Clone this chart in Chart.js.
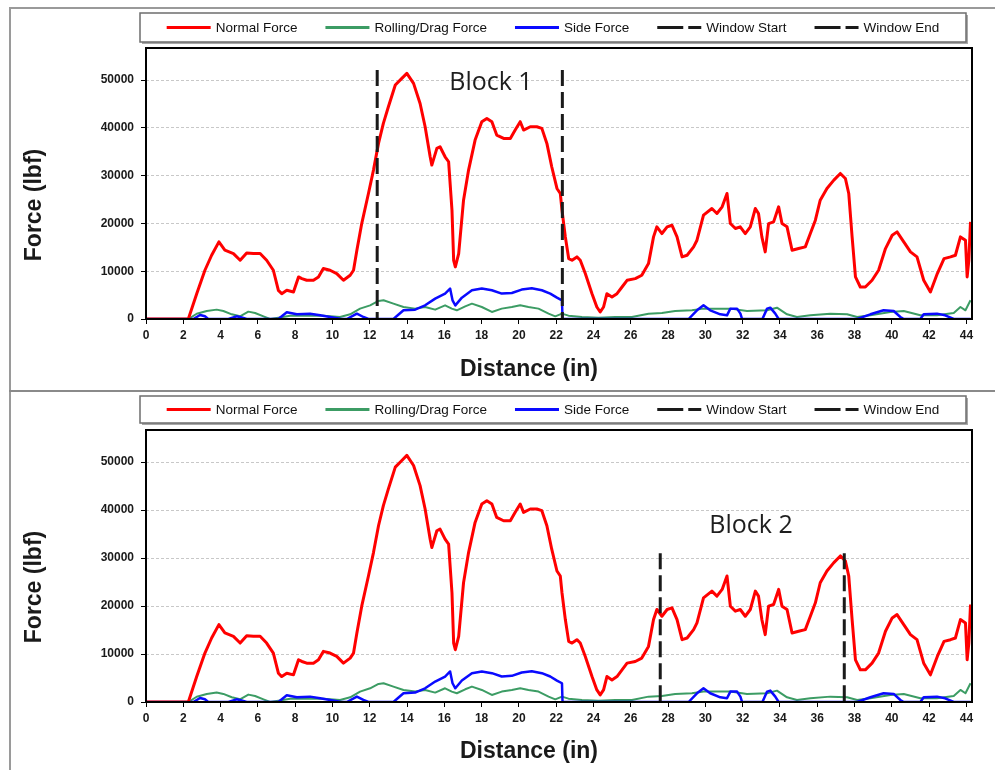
<!DOCTYPE html>
<html>
<head>
<meta charset="utf-8">
<title>Force vs Distance</title>
<script src="https://cdn.jsdelivr.net/npm/chart.js@4.4.1/dist/chart.umd.min.js"></script>
<style>
html, body { margin: 0; padding: 0; background: #fff; }
body { position: relative; width: 995px; height: 770px; overflow: hidden; }
.rule { position: absolute; background: #9a9a9a; }
#ruleLeft { left: 9px; top: 7px; width: 2px; height: 763px; }
#ruleTop { left: 9px; top: 7px; width: 986px; height: 2px; }
#ruleMid { left: 9px; top: 390px; width: 986px; height: 2px; background: #8a8a8a; }
canvas { position: absolute; left: 0; }
#chartTop { top: 0; }
#chartBottom { top: 392px; }
</style>
</head>
<body>
<div class="rule" id="ruleLeft"></div>
<div class="rule" id="ruleTop"></div>
<div class="rule" id="ruleMid"></div>
<canvas id="chartTop" width="995" height="390"></canvas>
<canvas id="chartBottom" width="995" height="378"></canvas>
<script>
// ========================================
// Data (distance in inches, force in lbf)
// ========================================

const normalDist = [0, 2.27, 2.72, 3.16, 3.52, 3.91, 4.23, 4.69, 5.05, 5.40,
  5.76, 6.12, 6.47, 6.83, 7.10, 7.28, 7.55, 7.91, 8.18, 8.36,
  8.62, 8.98, 9.25, 9.51, 9.87, 10.23, 10.59, 10.95, 11.13, 11.31,
  11.57, 11.93, 12.20, 12.47, 12.73, 13.00, 13.37, 13.72, 13.99, 14.35,
  14.70, 14.97, 15.24, 15.33, 15.60, 15.77, 16.04, 16.23, 16.41, 16.50,
  16.59, 16.77, 17.03, 17.30, 17.65, 18.01, 18.28, 18.55, 18.81, 19.18,
  19.54, 19.80, 20.07, 20.25, 20.61, 20.96, 21.23, 21.50, 21.76, 22.04,
  22.22, 22.31, 22.49, 22.67, 22.85, 23.11, 23.29, 23.56, 23.92, 24.18,
  24.36, 24.54, 24.72, 24.99, 25.26, 25.53, 25.80, 26.24, 26.59, 26.95,
  27.22, 27.40, 27.67, 27.95, 28.21, 28.48, 28.75, 29.02, 29.37, 29.55,
  29.90, 30.35, 30.62, 30.90, 31.16, 31.34, 31.61, 31.87, 32.14, 32.41,
  32.68, 32.85, 33.03, 33.21, 33.39, 33.66, 33.93, 34.11, 34.38, 34.65,
  35.00, 35.36, 35.63, 35.90, 36.16, 36.52, 36.89, 37.24, 37.51, 37.69,
  37.87, 38.05, 38.31, 38.58, 38.94, 39.29, 39.66, 40.02, 40.28, 40.64,
  41.00, 41.35, 41.71, 42.07, 42.44, 42.80, 43.15, 43.41, 43.68, 43.95,
  44.04, 44.13, 44.22];

const normalForce = [0, 0, 5300, 10200, 13340, 16130, 14390, 13690, 12290, 13830,
  13690, 13690, 12290, 10200, 6000, 5300, 6000, 5660, 8800, 8450,
  8100, 8100, 8800, 10550, 10200, 9500, 8100, 9150, 10200, 14390,
  19970, 26260, 31150, 36740, 40930, 44420, 48960, 50350, 51400, 49300,
  45100, 40230, 33940, 32200, 35690, 36040, 33940, 32900, 22770, 12290,
  10900, 13690, 24860, 31150, 37430, 41280, 41970, 41280, 38480, 37780,
  37780, 39530, 41280, 39530, 40230, 40230, 39880, 36740, 31850, 27310,
  26260, 22770, 17180, 12640, 12290, 12990, 12290, 9500, 5300, 2510,
  1470, 2510, 5300, 4600, 5300, 6700, 8100, 8450, 9150, 11590,
  17180, 19280, 17880, 19280, 19620, 17180, 12990, 13340, 15090, 16480,
  21720, 23120, 22070, 23470, 26260, 19970, 18930, 19280, 17880, 19280,
  23120, 22070, 17180, 14040, 19970, 20320, 23470, 19970, 19280, 14390,
  14740, 15090, 17880, 20670, 24860, 27310, 29050, 30450, 29400, 26260,
  17180, 8800, 6700, 6700, 8100, 10200, 14740, 17530, 18230, 16130,
  14040, 12990, 8100, 5660, 9500, 12640, 12990, 13340, 17180, 16480,
  8800, 12290, 20320];

const dragDist = [0, 2.27, 2.72, 3.26, 3.79, 4.15, 4.60, 5.04, 5.49, 5.85,
  6.30, 6.65, 7.10, 7.73, 8.62, 9.52, 10.41, 10.95, 11.48, 12.02,
  12.47, 12.74, 13.27, 13.81, 14.43, 14.97, 15.51, 16.04, 16.40, 16.67,
  17.12, 17.48, 18.01, 18.55, 19.08, 19.62, 20.07, 20.51, 21.05, 21.59,
  21.95, 22.31, 22.66, 23.38, 24.27, 25.17, 26.06, 26.95, 27.67, 28.38,
  29.28, 29.90, 30.62, 31.34, 32.23, 33.31, 33.84, 34.38, 34.91, 35.63,
  36.70, 37.60, 38.14, 38.85, 39.92, 40.64, 41.53, 42.42, 43.32, 43.68,
  43.95, 44.22];

const dragForce = [0, 0, 1100, 1680, 1960, 1680, 980, 560, 1540, 1260,
  560, 0, 280, 700, 700, 700, 420, 980, 2170, 2860,
  3770, 3910, 3210, 2510, 2170, 2510, 1960, 2860, 2170, 1820,
  2650, 3210, 2510, 1470, 2170, 2510, 2860, 2510, 2170, 1120,
  560, 1120, 700, 420, 280, 420, 420, 1120, 1260, 1680,
  1820, 2170, 2170, 2170, 1680, 1820, 2370, 980, 420, 770,
  1120, 980, 420, 770, 1470, 1680, 770, 770, 1260, 2510,
  1820, 3910];

const sideDist = [0, 2.54, 2.90, 3.16, 3.34, 4.42, 4.86, 5.13, 5.40, 7.10,
  7.55, 8.09, 8.80, 9.34, 9.87, 10.41, 10.77, 11.31, 11.66, 11.93,
  13.27, 13.81, 14.43, 14.97, 15.51, 16.04, 16.31, 16.44, 16.59, 16.94,
  17.48, 18.01, 18.55, 19.08, 19.62, 20.15, 20.69, 21.23, 21.68, 22.04,
  22.31, 22.34, 29.10, 29.55, 29.90, 30.26, 30.80, 31.16, 31.34, 31.70,
  31.88, 31.97, 33.06, 33.31, 33.48, 33.75, 33.93, 38.14, 38.85, 39.56,
  40.10, 40.46, 40.64, 41.53, 41.71, 42.42, 42.86, 43.32, 44.22];

const sideForce = [0, 0, 840, 560, 0, 0, 560, 300, 0, 0,
  1400, 980, 1120, 770, 420, 70, 0, 1120, 420, 0,
  0, 1820, 1960, 2860, 4260, 5310, 6360, 3910, 2860, 4470,
  6010, 6360, 6010, 5310, 5450, 6150, 6430, 6010, 5310, 4470,
  3910, 0, 0, 1820, 2860, 1820, 980, 770, 2170, 2170,
  1120, 0, 0, 2170, 2370, 1120, 0, 0, 980, 1820,
  1680, 420, 0, 0, 980, 1120, 770, 0, 0];

// window start / end positions and marker heights
const block1Window = [12.40, 22.33];
const block1Top = 52100;
const block2Window = [27.58, 37.45];
const block2Top = 31000;

const seriesLabels = ["Normal Force", "Rolling/Drag Force", "Side Force", "Window Start", "Window End"];
const xTickValues = [0, 2, 4, 6, 8, 10, 12, 14, 16, 18, 20, 22, 24, 26, 28, 30, 32, 34, 36, 38, 40, 42, 44];
const yTickValues = [0, 10000, 20000, 30000, 40000, 50000];
const xRange = [0, 44.3];
const yRange = [0, 56700];

// ========================================
// Helpers
// ========================================

const FONT = '"Liberation Sans", Arial, sans-serif';

function pairs(xs, ys) {
  return xs.map((x, i) => ({ x: x, y: ys[i] }));
}

function buildDatasets(win, winTop) {
  const dash = { borderColor: "#1a1a1a", borderWidth: 3, borderDash: [16, 6] };
  return [
    { label: seriesLabels[0], data: pairs(normalDist, normalForce), borderColor: "#ff0000", borderWidth: 3, order: 3 },
    { label: seriesLabels[1], data: pairs(dragDist, dragForce), borderColor: "#3c9c64", borderWidth: 2, order: 5 },
    { label: seriesLabels[2], data: pairs(sideDist, sideForce), borderColor: "#0a0aff", borderWidth: 2.5, order: 4 },
    Object.assign({ label: seriesLabels[3], data: [{ x: win[0], y: winTop }, { x: win[0], y: 0 }], order: 1 }, dash),
    Object.assign({ label: seriesLabels[4], data: [{ x: win[1], y: winTop }, { x: win[1], y: 0 }], order: 2 }, dash)
  ];
}

// ========================================
// Panel decorations: plot frame, legend box, axis titles, block label
// ========================================

const panelDecor = {
  id: "panelDecor",
  afterDatasetsDraw(chart, args, o) {
    const { ctx, chartArea: a, scales } = chart;
    ctx.save();
    ctx.strokeStyle = "#000";
    ctx.lineWidth = 2;
    ctx.strokeRect(a.left, a.top, a.right - a.left, a.bottom - a.top);

    ctx.font = '25px "Open Sans", sans-serif';
    ctx.fillStyle = "#1e1e1e";
    ctx.textAlign = "center";
    ctx.textBaseline = "middle";
    ctx.fillText(o.block.text, scales.x.getPixelForValue(o.block.x), scales.y.getPixelForValue(o.block.y));
    ctx.restore();
  },
  afterDraw(chart, args, o) {
    const { ctx, chartArea: a } = chart;
    ctx.save();

    // axis titles
    ctx.font = "bold 23px " + FONT;
    ctx.fillStyle = "#1a1a1a";
    ctx.textAlign = "center";
    ctx.textBaseline = "middle";
    ctx.fillText("Distance (in)", (a.left + a.right) / 2 + o.xTitle.dx, o.xTitle.y);
    ctx.save();
    ctx.translate(o.yTitle.x, o.yTitle.y);
    ctx.rotate(-Math.PI / 2);
    ctx.fillText("Force (lbf)", 0, 0);
    ctx.restore();

    // legend box
    const L = o.legend;
    ctx.fillStyle = "#a8a8a8";
    ctx.fillRect(L.left + 2, L.top + 2, L.width, L.height);
    ctx.fillStyle = "#fff";
    ctx.fillRect(L.left, L.top, L.width, L.height);
    ctx.strokeStyle = "#6e6e6e";
    ctx.lineWidth = 1.5;
    ctx.strokeRect(L.left, L.top, L.width, L.height);

    ctx.font = "13.5px " + FONT;
    const sample = 44, gap = 5, spacing = 28;
    const items = chart.data.datasets.map(ds => ({ ds: ds, w: ctx.measureText(ds.label).width }));
    const total = items.reduce((s, it) => s + sample + gap + it.w, 0) + spacing * (items.length - 1);
    let x = L.left + (L.width - total) / 2;
    const y = L.top + L.height / 2;
    ctx.textAlign = "left";
    items.forEach(it => {
      ctx.beginPath();
      ctx.setLineDash(it.ds.borderDash ? [26, 5] : []);
      ctx.strokeStyle = it.ds.borderColor;
      ctx.lineWidth = 3;
      ctx.moveTo(x, y);
      ctx.lineTo(x + sample, y);
      ctx.stroke();
      ctx.setLineDash([]);
      ctx.fillStyle = "#111";
      ctx.fillText(it.ds.label, x + sample + gap, y + 1);
      x += sample + gap + it.w + spacing;
    });
    ctx.restore();
  }
};

// ========================================
// Chart factory
// ========================================

function makeChart(id, win, winTop, deco, pad) {
  return new Chart(document.getElementById(id), {
    type: "line",
    data: { datasets: buildDatasets(win, winTop) },
    options: {
      responsive: false,
      animation: false,
      devicePixelRatio: 1,
      layout: { padding: pad },
      elements: {
        point: { radius: 0 },
        line: { tension: 0, fill: false, borderJoinStyle: "round" }
      },
      plugins: {
        legend: { display: false },
        tooltip: { enabled: false },
        panelDecor: deco
      },
      scales: {
        x: {
          type: "linear",
          min: xRange[0],
          max: xRange[1],
          afterFit: s => { s.height = 30; },
          afterBuildTicks: s => { s.ticks = xTickValues.map(v => ({ value: v })); },
          grid: { drawOnChartArea: false, drawTicks: true, tickLength: 5, tickColor: "#000" },
          border: { display: false },
          ticks: {
            maxRotation: 0,
            autoSkip: false,
            padding: 4,
            color: "#1a1a1a",
            font: { family: FONT, size: 12, weight: "bold" }
          }
        },
        y: {
          min: yRange[0],
          max: yRange[1],
          afterFit: s => { s.width = 60; },
          afterBuildTicks: s => { s.ticks = yTickValues.map(v => ({ value: v })); },
          grid: { color: "#c8c8c8", lineWidth: 1, tickLength: 5, tickColor: "#000" },
          border: { display: false, dash: [3, 2] },
          ticks: {
            padding: 7,
            color: "#1a1a1a",
            font: { family: FONT, size: 12, weight: "bold" },
            callback: v => String(v)
          }
        }
      }
    },
    plugins: [panelDecor]
  });
}

makeChart("chartTop", block1Window, block1Top, {
  block: { text: "Block 1", x: 18.5, y: 49400 },
  legend: { left: 140, top: 13, width: 826, height: 29 },
  xTitle: { dx: -30, y: 370 },
  yTitle: { x: 35, y: 205 }
}, { left: 86, right: 23, top: 48, bottom: 41 });

makeChart("chartBottom", block2Window, block2Top, {
  block: { text: "Block 2", x: 32.45, y: 36700 },
  legend: { left: 140, top: 4, width: 826, height: 27 },
  xTitle: { dx: -30, y: 360 },
  yTitle: { x: 35, y: 195 }
}, { left: 86, right: 23, top: 38, bottom: 38 });
</script>
</body>
</html>
